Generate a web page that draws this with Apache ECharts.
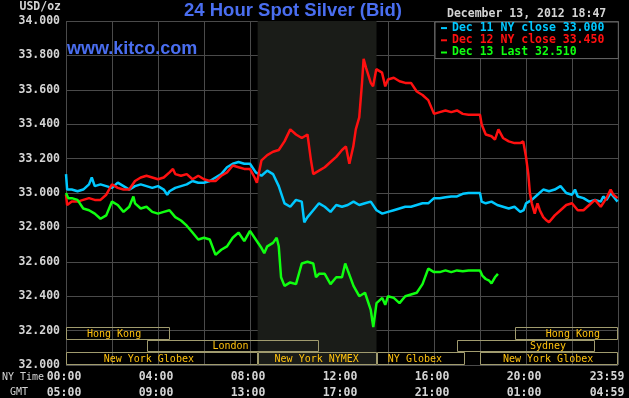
<!DOCTYPE html>
<html><head><meta charset="utf-8">
<script src="https://cdn.jsdelivr.net/npm/echarts@6/dist/echarts.min.js"></script>
<style>html,body{margin:0;padding:0;background:#000;}#c{width:629px;height:398px;}</style>
</head><body><div id="c"></div>
<script>
// ---- data (x = hours, NY time) ----
const seriesNames = ['Dec 11 NY close 33.000', 'Dec 12 NY close 33.450', 'Dec 13 Last 32.510'];

const dec11 = [
[0,33.11],[0.05,33.02],[0.25,33.02],[0.5,33.01],[0.75,33.02],[1,33.05],[1.12,33.09],[1.25,33.04],[1.5,33.05],[1.75,33.04],
[2,33.03],[2.25,33.06],[2.5,33.04],[2.75,33.02],[3,33.04],[3.25,33.05],[3.5,33.04],[3.75,33.03],[4,33.04],[4.25,33.02],
[4.4,32.99],[4.5,33.01],[4.75,33.03],[5,33.04],[5.25,33.05],[5.5,33.07],[5.75,33.06],[6,33.06],[6.25,33.07],[6.5,33.09],
[6.75,33.11],[7,33.15],[7.25,33.17],[7.5,33.18],[7.75,33.17],[8,33.17],[8.25,33.12],[8.5,33.10],[8.75,33.13],[9,33.11],
[9.25,33.04],[9.5,32.94],[9.75,32.92],[10,32.96],[10.25,32.95],[10.36,32.83],[10.5,32.86],[10.75,32.90],[11,32.94],[11.25,32.92],
[11.5,32.89],[11.75,32.93],[12,32.92],[12.25,32.93],[12.5,32.95],[12.75,32.93],[13,32.94],[13.25,32.95],[13.5,32.90],[13.75,32.88],
[14,32.89],[14.25,32.90],[14.5,32.91],[14.75,32.92],[15,32.92],[15.25,32.93],[15.5,32.94],[15.75,32.94],[16,32.97],[16.25,32.97],
[16.5,32.975],[16.75,32.98],[17,32.98],[17.25,32.995],[17.5,33.00],[17.75,33.00],[18,33.00],[18.07,32.95],[18.25,32.94],[18.5,32.95],
[18.75,32.93],[19,32.92],[19.25,32.91],[19.5,32.92],[19.75,32.89],[19.9,32.90],[20,32.94],[20.25,32.96],[20.5,32.99],[20.75,33.02],
[21,33.01],[21.25,33.02],[21.5,33.04],[21.75,33.00],[22,32.99],[22.13,33.02],[22.25,32.98],[22.5,32.97],[22.75,32.95],[23,32.96],
[23.25,32.95],[23.36,32.98],[23.5,32.96],[23.68,33.00],[23.8,32.98],[23.98,32.95]
];

const dec12 = [
[0,32.99],[0.05,32.93],[0.25,32.95],[0.5,32.95],[0.75,32.96],[1,32.97],[1.25,32.96],[1.5,32.96],[1.75,32.99],[2,33.05],
[2.25,33.03],[2.5,33.02],[2.75,33.02],[3,33.07],[3.25,33.09],[3.5,33.10],[3.75,33.09],[4,33.08],[4.25,33.09],[4.5,33.12],
[4.65,33.14],[4.75,33.11],[5,33.10],[5.25,33.11],[5.5,33.08],[5.75,33.10],[6,33.08],[6.25,33.07],[6.5,33.07],[6.75,33.10],
[7,33.12],[7.25,33.16],[7.5,33.15],[7.75,33.14],[8,33.14],[8.2,33.09],[8.3,33.06],[8.5,33.19],[8.75,33.22],[9,33.24],
[9.25,33.25],[9.5,33.30],[9.75,33.37],[10,33.34],[10.25,33.32],[10.5,33.34],[10.65,33.19],[10.75,33.11],[11,33.13],[11.25,33.15],
[11.5,33.18],[11.75,33.21],[12,33.25],[12.17,33.27],[12.32,33.17],[12.49,33.27],[12.6,33.37],[12.75,33.44],[12.87,33.64],[12.94,33.78],
[13.04,33.73],[13.25,33.64],[13.35,33.62],[13.49,33.72],[13.74,33.70],[13.88,33.62],[14,33.66],[14.25,33.67],[14.5,33.65],[14.75,33.64],
[15,33.64],[15.25,33.59],[15.5,33.57],[15.75,33.54],[16,33.46],[16.25,33.47],[16.5,33.48],[16.75,33.47],[17,33.48],[17.25,33.46],
[17.5,33.455],[17.75,33.455],[18,33.455],[18.07,33.40],[18.25,33.34],[18.5,33.33],[18.65,33.31],[18.8,33.37],[19,33.32],[19.25,33.30],
[19.5,33.29],[19.75,33.29],[19.88,33.30],[20,33.21],[20.1,33.11],[20.17,33.00],[20.25,32.94],[20.38,32.88],[20.5,32.94],[20.6,32.90],
[20.75,32.86],[20.9,32.84],[21,32.83],[21.25,32.87],[21.5,32.90],[21.75,32.93],[22,32.94],[22.25,32.90],[22.5,32.90],[22.75,32.93],
[23,32.96],[23.25,32.92],[23.5,32.97],[23.68,33.02],[23.8,32.99],[23.98,32.97]
];

const dec13 = [
[0,33.00],[0.1,32.97],[0.25,32.97],[0.5,32.96],[0.75,32.91],[1,32.90],[1.25,32.88],[1.5,32.85],[1.75,32.87],[2,32.95],
[2.25,32.93],[2.5,32.89],[2.75,32.92],[2.93,32.98],[3,32.94],[3.25,32.91],[3.5,32.92],[3.75,32.89],[4,32.88],[4.25,32.89],
[4.5,32.90],[4.75,32.86],[5,32.84],[5.25,32.81],[5.5,32.77],[5.75,32.73],[6,32.74],[6.25,32.73],[6.5,32.64],[6.75,32.67],
[7,32.69],[7.25,32.74],[7.5,32.77],[7.75,32.72],[8,32.78],[8.25,32.73],[8.5,32.68],[8.62,32.65],[8.75,32.69],[9,32.71],
[9.16,32.74],[9.25,32.69],[9.35,32.51],[9.5,32.46],[9.75,32.48],[10,32.47],[10.25,32.59],[10.5,32.60],[10.75,32.59],[10.87,32.51],
[11,32.53],[11.25,32.53],[11.5,32.47],[11.75,32.51],[12,32.51],[12.14,32.59],[12.25,32.55],[12.5,32.46],[12.75,32.40],[13,32.42],
[13.25,32.32],[13.36,32.22],[13.5,32.36],[13.75,32.39],[13.88,32.35],[14,32.40],[14.25,32.39],[14.5,32.36],[14.75,32.40],[15,32.41],
[15.25,32.42],[15.5,32.47],[15.75,32.56],[16,32.54],[16.25,32.54],[16.5,32.55],[16.75,32.54],[17,32.55],[17.25,32.545],[17.5,32.55],
[17.75,32.55],[18,32.55],[18.1,32.52],[18.25,32.50],[18.4,32.49],[18.5,32.475],[18.65,32.51],[18.78,32.53]
];

const nyTimeLabels = ['00:00','04:00','08:00','12:00','16:00','20:00','23:59'];
const gmtLabels    = ['05:00','09:00','13:00','17:00','21:00','01:00','04:59'];

const sessionNames = ['Hong Kong','London','New York Globex','New York NYMEX','NY Globex','Sydney','New York Globex','Hong Kong'];
const sessionStart = [0, 3.5, 0, 8.333, 13.5, 17, 18, 19.5];
const sessionEnd   = [4.5, 11, 8.333, 13.5, 17.333, 23, 24, 24];
const sessionRow   = [0, 1, 2, 2, 2, 1, 2, 0];
const nymexHours   = [8.333, 13.5];

// ---- styles ----
const lineColors = ['#00c8ff', '#ff1010', '#10ff10'];
const labelCenter = [2.09, 7.15, 3.6, 10.9, 15.17, 20.96, 20.96, 22.04];
const rowBounds = [[32.222, 32.148], [32.148, 32.074], [32.074, 32.0]];
const MONO = '"DejaVu Sans Mono", monospace';

const chart = echarts.init(document.getElementById('c'), null, {renderer: 'canvas'});

const sessionData = sessionStart.map((s, i) => [s, sessionEnd[i], sessionRow[i], labelCenter[i], i]);

chart.setOption({
  animation: false,
  backgroundColor: '#000',
  grid: {left: 66, right: 11, top: 21, bottom: 33, containLabel: false, outerBoundsMode: 'none'},
  xAxis: {
    type: 'value', min: 0, max: 24, interval: 2,
    axisLine: {show: false}, axisTick: {show: false},
    splitLine: {show: true, lineStyle: {color: '#4a4a4a', width: 1}},
    axisLabel: {
      margin: 4,
      formatter: function (v) {
        const k = v / 4;
        if (Math.abs(k - Math.round(k)) > 1e-6) return '';
        const i = Math.round(k);
        const st = i === 6 ? 'e' : 'a';
        return '{' + st + '|' + nyTimeLabels[i] + '}\n{' + st + '|' + gmtLabels[i] + '}';
      },
      rich: {
        a: {color: '#d4d4d4', fontFamily: MONO, fontWeight: 'bold', fontSize: 11.5, lineHeight: 16, padding: [0, 4, 0, 0]},
        e: {color: '#d4d4d4', fontFamily: MONO, fontWeight: 'bold', fontSize: 11.5, lineHeight: 16, padding: [0, 22, 0, 0]}
      }
    }
  },
  yAxis: {
    type: 'value', min: 32, max: 34, interval: 0.2,
    name: 'USD/oz', nameLocation: 'end', nameGap: 14,
    nameTextStyle: {color: '#d4d4d4', fontFamily: MONO, fontWeight: 'bold', fontSize: 11.5, align: 'right', padding: [0, 5, 0, 0], verticalAlign: 'middle'},
    axisLine: {show: false}, axisTick: {show: false},
    splitLine: {show: true, lineStyle: {color: '#4a4a4a', width: 1}},
    axisLabel: {
      margin: 6, color: '#d4d4d4', fontFamily: MONO, fontWeight: 'bold', fontSize: 11.5,
      formatter: v => v.toFixed(3)
    }
  },
  legend: {
    orient: 'vertical', left: 435, top: 22,
    padding: [0, 14, 0, 6], itemGap: 0,
    backgroundColor: '#000', borderColor: '#6a6a6a', borderWidth: 1,
    icon: 'rect', itemWidth: 6, itemHeight: 2, selectedMode: false,
    textStyle: {fontFamily: MONO, fontWeight: 'bold', fontSize: 11.5, lineHeight: 12.2},
    data: seriesNames.map((n, i) => ({name: n, textStyle: {color: lineColors[i]}}))
  },
  graphic: [
    {type: 'text', z: 100, style: {text: '24 Hour Spot Silver (Bid)', x: 293, y: 11, textAlign: 'center', textVerticalAlign: 'middle', font: 'bold 18.5px "Liberation Sans", Arial, sans-serif', fill: '#4a6ef0'}},
    {type: 'text', z: 100, style: {text: 'www.kitco.com', x: 67, y: 49, textAlign: 'left', textVerticalAlign: 'middle', font: 'bold 18px "Liberation Sans", Arial, sans-serif', fill: '#4a6ef0'}},
    {type: 'text', z: 100, style: {text: 'December 13, 2012 18:47', x: 447, y: 14, textAlign: 'left', textVerticalAlign: 'middle', font: 'bold 11.5px ' + MONO, fill: '#d4d4d4'}},
    {type: 'text', z: 100, style: {text: 'NY Time', x: 23, y: 377, textAlign: 'center', textVerticalAlign: 'middle', font: '10px ' + MONO, fill: '#d4d4d4'}},
    {type: 'text', z: 100, style: {text: 'GMT', x: 19, y: 392, textAlign: 'center', textVerticalAlign: 'middle', font: '10px ' + MONO, fill: '#d4d4d4'}}
  ],
  series: [
    {
      type: 'line', name: 'shade', data: [], silent: true,
      markArea: {silent: true, itemStyle: {color: '#1a1c18'}, data: [[{xAxis: nymexHours[0]}, {xAxis: nymexHours[1]}]]}
    },
    {
      type: 'custom', name: 'sessions', silent: true, data: sessionData,
      renderItem: function (params, api) {
        const x0 = api.value(0), x1 = api.value(1), row = api.value(2), lc = api.value(3), idx = api.value(4);
        const rb = rowBounds[row];
        const p0 = api.coord([x0, rb[0]]);
        const p1 = api.coord([x1, rb[1]]);
        const left = Math.round(p0[0]) + 0.5, right = Math.round(p1[0]) - 0.5;
        const top = Math.round(p0[1]) + 0.5, bottom = Math.round(p1[1]) - 0.5;
        const lp = api.coord([lc, rb[0]]);
        return {
          type: 'group',
          children: [
            {type: 'rect', shape: {x: left, y: top, width: right - left, height: bottom - top},
             style: {fill: 'none', stroke: '#a09b6e', lineWidth: 1}},
            {type: 'text', style: {text: sessionNames[idx], x: lp[0], y: (top + bottom) / 2 + 0.5, textAlign: 'center', textVerticalAlign: 'middle',
              font: '10px ' + MONO, fill: '#ffc20e'}}
          ]
        };
      }
    },
    {type: 'line', name: seriesNames[0], data: dec11, showSymbol: false, symbol: 'none', color: lineColors[0], lineStyle: {width: 2.5, color: lineColors[0]}},
    {type: 'line', name: seriesNames[1], data: dec12, showSymbol: false, symbol: 'none', color: lineColors[1], lineStyle: {width: 2.5, color: lineColors[1]}},
    {type: 'line', name: seriesNames[2], data: dec13, showSymbol: false, symbol: 'none', color: lineColors[2], lineStyle: {width: 2.5, color: lineColors[2]}}
  ]
});
</script>
</body></html>
